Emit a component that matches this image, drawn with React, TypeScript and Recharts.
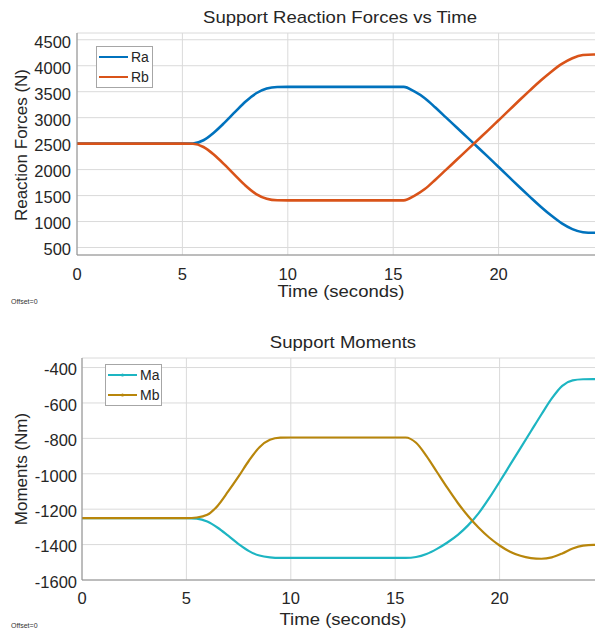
import { CartesianGrid, Legend, Line, LineChart, XAxis, YAxis } from "recharts";

// time samples (seconds)
const time = [
  0, 0.5, 1, 1.5, 2, 2.5, 3, 3.5, 4, 4.5, 5, 5.5, 6, 6.5, 7, 7.5, 8, 8.5, 9, 9.5,
  10, 10.5, 11, 11.5, 12, 12.5, 13, 13.5, 14, 14.5, 15, 15.5, 16, 16.5, 17, 17.5,
  18, 18.5, 19, 19.5, 20, 20.5, 21, 21.5, 22, 22.5, 23, 23.5, 24, 24.5, 25,
];

// reaction forces (N)
const ra = [
  2500, 2500, 2500, 2500, 2500, 2500, 2500, 2500, 2500, 2500, 2500, 2503,
  2565, 2715, 2905, 3110, 3310, 3470, 3560, 3590,
  3592, 3592, 3592, 3592, 3592, 3592, 3592, 3592, 3592, 3592, 3592, 3592,
  3505, 3375, 3195, 3005, 2815, 2625, 2435, 2245, 2050, 1855, 1660, 1470, 1285,
  1115, 965, 855, 795, 785, 785,
];
const rb = [
  2500, 2500, 2500, 2500, 2500, 2500, 2500, 2500, 2500, 2500, 2500, 2497,
  2435, 2285, 2095, 1890, 1690, 1530, 1440, 1410,
  1408, 1408, 1408, 1408, 1408, 1408, 1408, 1408, 1408, 1408, 1408, 1408,
  1495, 1625, 1805, 1995, 2185, 2375, 2565, 2755, 2950, 3145, 3340, 3530, 3715,
  3885, 4035, 4145, 4205, 4215, 4215,
];

// support moments (Nm)
const ma = [
  -1250, -1250, -1250, -1250, -1250, -1250, -1250, -1250, -1250, -1250, -1250,
  -1253, -1270, -1305, -1350, -1397, -1437, -1462, -1472, -1475,
  -1475, -1475, -1475, -1475, -1475, -1475, -1475, -1475, -1475, -1475, -1475, -1475,
  -1470, -1453, -1424, -1388, -1345, -1290, -1222, -1138, -1045, -950, -855, -760,
  -665, -574, -503, -472, -466, -465, -465,
];
const mb = [
  -1250, -1250, -1250, -1250, -1250, -1250, -1250, -1250, -1250, -1250, -1250,
  -1247, -1232, -1180, -1100, -1015, -925, -850, -808, -796,
  -795, -795, -795, -795, -795, -795, -795, -795, -795, -795, -795, -795,
  -825, -900, -990, -1080, -1165, -1240, -1305, -1360, -1405, -1440, -1463, -1476,
  -1480, -1472, -1450, -1422, -1406, -1402, -1402,
];

const xTicks = [0, 5, 10, 15, 20];
const forceTicks = [500, 1000, 1500, 2000, 2500, 3000, 3500, 4000, 4500];
const momentTicks = [-1600, -1400, -1200, -1000, -800, -600, -400];

const forceData = time.map((t, i) => ({ t, Ra: ra[i], Rb: rb[i] }));
const momentData = time.map((t, i) => ({ t, Ma: ma[i], Mb: mb[i] }));

const FONT = '"Liberation Sans", Arial, Helvetica, sans-serif';
const TEXT = "#262626";
const AXIS = "#8c8c8c";
const GRID = "#dadada";

const tickStyle = { fill: TEXT, fontSize: 16.5, fontFamily: FONT };

function BoxLegend({ payload, marker }: any) {
  return (
    <div
      style={{
        boxSizing: "border-box",
        width: 57,
        border: "1px solid #a6a6a6",
        background: "#fff",
        padding: "0 0 0 2px",
        fontFamily: FONT,
        fontSize: 14,
        color: TEXT,
      }}
    >
      {(payload || []).map((p: any) => (
        <div key={p.value} style={{ display: "flex", alignItems: "center", height: 20 }}>
          <svg width={29} height={6} style={{ display: "block" }}>
            <line x1={0} y1={3} x2={29} y2={3} stroke={p.color} strokeWidth={2} />
            {marker && <circle cx={14.5} cy={3} r={1.6} fill={p.color} />}
          </svg>
          <span style={{ marginLeft: 3, lineHeight: "20px" }}>{p.value}</span>
        </div>
      ))}
    </div>
  );
}

function Caption({ text, x, y, size }: { text: string; x: number; y: number; size: number }) {
  return (
    <div
      style={{
        position: "absolute",
        left: x - 200,
        top: y,
        width: 400,
        textAlign: "center",
        fontFamily: FONT,
        fontSize: size,
        lineHeight: "20px",
        color: TEXT,
        transform: "scaleX(1.09)",
        whiteSpace: "nowrap",
      }}
    >
      {text}
    </div>
  );
}

function SideLabel({ text, x, y }: { text: string; x: number; y: number }) {
  return (
    <div
      style={{
        position: "absolute",
        left: x - 150,
        top: y - 10,
        width: 300,
        height: 20,
        lineHeight: "20px",
        textAlign: "center",
        fontFamily: FONT,
        fontSize: 17,
        color: TEXT,
        transform: "rotate(-90deg)",
        whiteSpace: "nowrap",
      }}
    >
      {text}
    </div>
  );
}

function Offset({ y }: { y: number }) {
  return (
    <div
      style={{
        position: "absolute",
        left: 11,
        top: y - 5,
        fontFamily: FONT,
        fontSize: 7,
        lineHeight: "10px",
        color: "#333",
      }}
    >
      Offset=0
    </div>
  );
}

export default function App() {
  return (
    <div
      style={{
        position: "fixed",
        left: 0,
        top: 0,
        width: 595,
        height: 633,
        overflow: "hidden",
        background: "#fff",
      }}
    >
      <div style={{ position: "absolute", left: 0, top: 0 }}>
        <LineChart width={604} height={300} data={forceData} margin={{ top: 33, right: 0, bottom: 0, left: 0 }}>
          <CartesianGrid stroke={GRID} />
          <XAxis
            dataKey="t"
            type="number"
            domain={[0, 25]}
            ticks={xTicks}
            interval={0}
            allowDataOverflow
            height={45}
            axisLine={{ stroke: AXIS }}
            tickLine={false}
            tickMargin={7}
            tick={tickStyle}
          />
          <XAxis
            xAxisId="top"
            orientation="top"
            dataKey="t"
            type="number"
            domain={[0, 25]}
            height={0}
            tick={false}
            tickLine={false}
            axisLine={{ stroke: AXIS }}
          />
          <YAxis
            type="number"
            domain={[356, 4630]}
            ticks={forceTicks}
            interval={0}
            allowDataOverflow
            width={77}
            axisLine={{ stroke: AXIS }}
            tickLine={false}
            tickSize={4}
            tickMargin={2}
            tick={{ ...tickStyle, dy: 2 }}
          />
          <Legend
            layout="vertical"
            align="center"
            verticalAlign="middle"
            wrapperStyle={{ left: 96, top: 46, width: "auto", height: "auto" }}
            content={(props: any) => <BoxLegend payload={props.payload} />}
          />
          <Line type="monotone" dataKey="Ra" name="Ra" stroke="#0072BD" strokeWidth={2.6} dot={false} isAnimationActive={false} />
          <Line type="monotone" dataKey="Rb" name="Rb" stroke="#D95319" strokeWidth={2.6} dot={false} isAnimationActive={false} />
        </LineChart>
      </div>

      <div style={{ position: "absolute", left: 0, top: 320 }}>
        <LineChart width={604} height={300} data={momentData} margin={{ top: 38, right: 0, bottom: 0, left: 0 }}>
          <CartesianGrid stroke={GRID} />
          <XAxis
            dataKey="t"
            type="number"
            domain={[0, 25]}
            ticks={xTicks}
            interval={0}
            allowDataOverflow
            height={40}
            axisLine={{ stroke: AXIS }}
            tickLine={false}
            tickMargin={6}
            tick={tickStyle}
          />
          <XAxis
            xAxisId="top"
            orientation="top"
            dataKey="t"
            type="number"
            domain={[0, 25]}
            height={0}
            tick={false}
            tickLine={false}
            axisLine={{ stroke: AXIS }}
          />
          <YAxis
            type="number"
            domain={[-1600, -346]}
            ticks={momentTicks}
            interval={0}
            allowDataOverflow
            width={82}
            axisLine={{ stroke: AXIS }}
            tickLine={false}
            tickSize={3}
            tickMargin={2}
            tick={{ ...tickStyle, dy: 2 }}
          />
          <Legend
            layout="vertical"
            align="center"
            verticalAlign="middle"
            wrapperStyle={{ left: 105, top: 44, width: "auto", height: "auto" }}
            content={(props: any) => <BoxLegend payload={props.payload} marker />}
          />
          <Line type="monotone" dataKey="Ma" name="Ma" stroke="#1DB5C2" strokeWidth={2.2} dot={false} isAnimationActive={false} />
          <Line type="monotone" dataKey="Mb" name="Mb" stroke="#B8860B" strokeWidth={2.2} dot={false} isAnimationActive={false} />
        </LineChart>
      </div>

      <Caption text="Support Reaction Forces vs Time" x={340} y={8} size={17} />
      <Caption text="Time (seconds)" x={341} y={282} size={17} />
      <SideLabel text="Reaction Forces (N)" x={22} y={145} />
      <Offset y={302} />

      <Caption text="Support Moments" x={343} y={333} size={17} />
      <Caption text="Time (seconds)" x={343} y={610} size={17} />
      <SideLabel text="Moments (Nm)" x={22} y={469} />
      <Offset y={626} />
    </div>
  );
}
